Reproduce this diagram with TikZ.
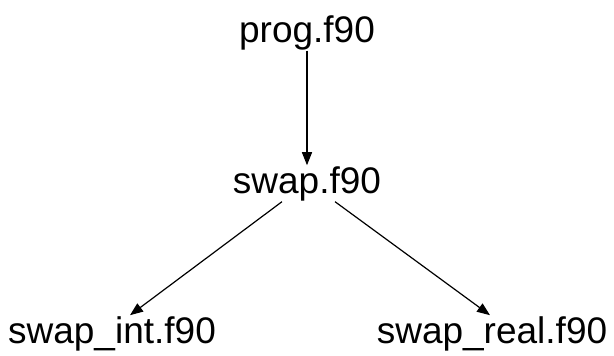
\documentclass[tikz,border=0pt]{standalone}
\usepackage{fontspec}
\setmainfont{Liberation Sans}
\usetikzlibrary{arrows.meta}
\begin{document}
\begin{tikzpicture}[x=1pt,y=1pt,
  lbl/.style={inner sep=0pt,outer sep=1pt,anchor=base,font=\fontsize{37}{40}\selectfont},
  con/.style={line width=1.2pt,-{Triangle[length=13pt,width=10pt]}}]
\useasboundingbox (0,0) rectangle (614,-356);
\node[lbl] (prog) at (307,-42) {prog.f90};
\node[lbl] (swap) at (307,-193) {swap.f90};
\node[lbl] (si) at (112,-343) {swap\_int.f90};
\node[lbl] (sr) at (492,-343) {swap\_real.f90};
\draw[con] (prog.south) -- (swap.north);
\draw[con] ([xshift=-25pt]swap.south) -- ([xshift=18pt]si.north);
\draw[con] ([xshift=28pt]swap.south) -- ([xshift=-2pt]sr.north);
\end{tikzpicture}
\end{document}
